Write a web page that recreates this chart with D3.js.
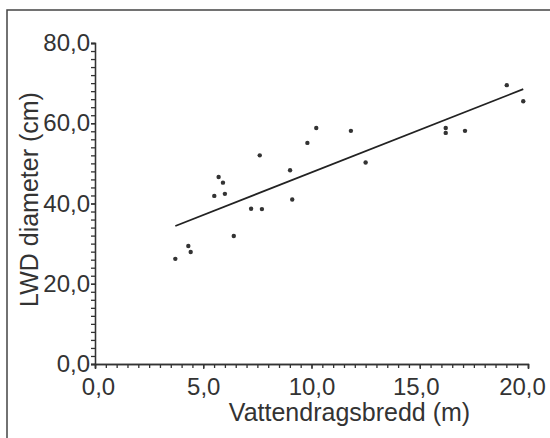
<!DOCTYPE html>
<html>
<head>
<meta charset="utf-8">
<script src="https://d3js.org/d3.v7.min.js"></script>
<style>
  body { margin: 0; background: #fff; }
  text { font-family: "Liberation Sans", Arial, sans-serif; fill: #333; }
</style>
</head>
<body>
<div id="scatter"></div>
<script>
// data
var bredd = [3.71, 4.31, 4.42, 5.51, 5.71, 5.91, 6.00, 6.41, 7.21, 7.61, 7.71,
             9.01, 9.11, 9.81, 10.22, 11.82, 12.50, 16.20, 16.20, 17.09, 19.02, 19.78]
var diameter = [26.2, 29.4, 27.9, 41.9, 46.6, 45.2, 42.4, 31.9, 38.7, 52.0, 38.6,
                48.3, 41.0, 55.1, 58.8, 58.1, 50.2, 58.8, 57.6, 58.1, 69.5, 65.5]
// regression line end points
var lineX = [3.71, 19.78]
var lineY = [34.4, 68.5]
var xTicks = [0, 5, 10, 15, 20]
var yTicks = [0, 20, 40, 60, 80]
var xTitle = "Vattendragsbredd (m)"
var yTitle = "LWD diameter (cm)"

// set the dimensions and margins of the graph
var margin = {top: 43, right: 22, bottom: 74, left: 95},
    width = 550,
    height = 438,
    innerW = 433,
    innerH = 321

var svg = d3.select("#scatter")
  .append("svg")
    .attr("width", width)
    .attr("height", height)

// frame around the figure (runs off the page at right and bottom)
svg.append("rect")
  .attr("x", 7)
  .attr("y", 10)
  .attr("width", 600)
  .attr("height", 500)
  .attr("fill", "none")
  .attr("stroke", "#444")
  .attr("stroke-width", 1.5)

var g = svg.append("g")
  .attr("transform", "translate(" + margin.left + "," + margin.top + ")")

var fmt = function(d) { return d3.format(".1f")(d).replace(".", ","); }

var x = d3.scaleLinear()
  .domain([0, 20])
  .range([0, innerW])

var y = d3.scaleLinear()
  .domain([0, 80])
  .range([innerH, 0])

// minor ticks
g.append("g")
  .attr("class", "axis")
  .attr("transform", "translate(0," + innerH + ")")
  .call(d3.axisBottom(x).tickValues(d3.range(0, 20.01, 0.5)).tickSize(4).tickFormat(""))
g.append("g")
  .attr("class", "axis")
  .call(d3.axisLeft(y).tickValues(d3.range(0, 80.01, 2)).tickSize(4).tickFormat(""))

// major ticks + labels
var xAxisG = g.append("g")
  .attr("class", "axis")
  .attr("transform", "translate(0," + innerH + ")")
  .call(d3.axisBottom(x).tickValues(xTicks).tickSize(5).tickPadding(9).tickFormat(fmt))
g.append("g")
  .attr("class", "axis")
  .call(d3.axisLeft(y).tickValues(yTicks).tickSize(4).tickPadding(1).tickFormat(fmt))

// labels in the original are not exactly centred under their ticks
xAxisG.selectAll("text")
  .attr("dx", function(d) { return d == 0 ? 3 : d == 15 ? -4 : d == 20 ? -6 : 0; })

g.selectAll(".axis path, .axis line")
  .attr("stroke", "#333")
  .attr("stroke-width", 1.3)
g.selectAll(".axis text")
  .attr("fill", "#333")
  .style("font-size", "24px")
  .style("font-family", "'Liberation Sans', Arial, sans-serif")

// axis titles
g.append("text")
  .attr("x", innerW / 2 + 38)
  .attr("y", innerH + 57)
  .attr("text-anchor", "middle")
  .style("font-size", "25px")
  .text(xTitle)

g.append("text")
  .attr("transform", "translate(" + (-57) + "," + (innerH / 2 - 4) + ") rotate(-90)")
  .attr("text-anchor", "middle")
  .style("font-size", "25px")
  .text(yTitle)

// regression line
g.append("line")
  .attr("x1", x(lineX[0]))
  .attr("y1", y(lineY[0]))
  .attr("x2", x(lineX[1]))
  .attr("y2", y(lineY[1]))
  .attr("stroke", "#222")
  .attr("stroke-width", 1.8)

// points
g.selectAll("circle")
  .data(bredd)
  .enter()
  .append("circle")
    .attr("cx", function(d) { return x(d); })
    .attr("cy", function(d, i) { return y(diameter[i]); })
    .attr("r", 2.2)
    .attr("fill", "#333")
</script>
</body>
</html>
